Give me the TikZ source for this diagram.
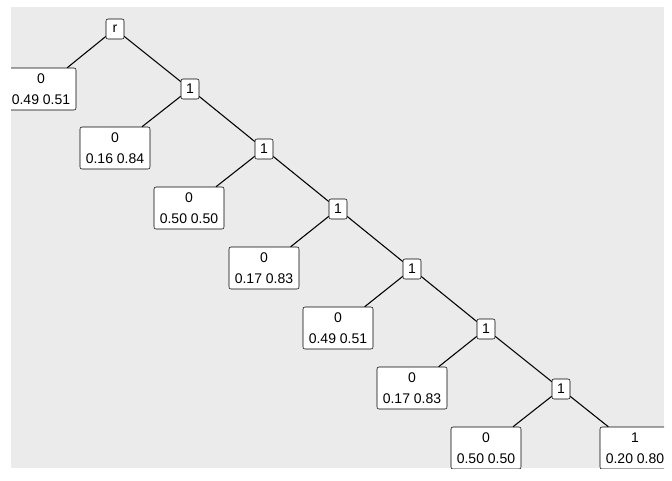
\documentclass[tikz,border=0pt]{standalone}
\usepackage{fontspec}
\setmainfont{Liberation Sans}
\usepackage{tikz}

\definecolor{panelgray}{HTML}{EBEBEB}

\tikzset{
  split/.style={draw=black, fill=white, rounded corners=1.5pt, thin,
    minimum width=13.5pt, minimum height=15pt, inner sep=0pt,
    font=\fontsize{10.5}{12}\selectfont},
  leaf/.style={draw=black, fill=white, rounded corners=1.5pt, thin,
    minimum width=52.5pt, minimum height=31.5pt, inner sep=0pt, align=center,
    font=\fontsize{10.5}{15.75}\selectfont},
  branch/.style={black, line width=0.8pt}
}

\begin{document}
\begin{tikzpicture}[x=0.75pt, y=-0.75pt]
\useasboundingbox (0,0) rectangle (672,480);
\fill[panelgray] (11,7) rectangle (664,468);

\begin{scope}
\clip (11,7) rectangle (664,468);

% inner splits
\node[split] (r)  at (115,29)  {r};
\node[split] (n1) at (190,89)  {1};
\node[split] (n2) at (264,149) {1};
\node[split] (n3) at (338,209) {1};
\node[split] (n4) at (412,269) {1};
\node[split] (n5) at (486,329) {1};
\node[split] (n6) at (561,389) {1};

% leaves
\node[leaf] (l0) at (41,89)   {0\\0.49 0.51};
\node[leaf] (l1) at (115,148) {0\\0.16 0.84};
\node[leaf] (l2) at (189,208) {0\\0.50 0.50};
\node[leaf] (l3) at (264,268) {0\\0.17 0.83};
\node[leaf] (l4) at (338,328) {0\\0.49 0.51};
\node[leaf] (l5) at (412,388) {0\\0.17 0.83};
\node[leaf] (l6) at (486,448) {0\\0.50 0.50};
\node[leaf] (l7) at (635,448) {1\\0.20 0.80};

% branches
\draw[branch] (r)  -- (l0);
\draw[branch] (r)  -- (n1);
\draw[branch] (n1) -- (l1);
\draw[branch] (n1) -- (n2);
\draw[branch] (n2) -- (l2);
\draw[branch] (n2) -- (n3);
\draw[branch] (n3) -- (l3);
\draw[branch] (n3) -- (n4);
\draw[branch] (n4) -- (l4);
\draw[branch] (n4) -- (n5);
\draw[branch] (n5) -- (l5);
\draw[branch] (n5) -- (n6);
\draw[branch] (n6) -- (l6);
\draw[branch] (n6) -- (l7);
\end{scope}

\end{tikzpicture}
\end{document}
